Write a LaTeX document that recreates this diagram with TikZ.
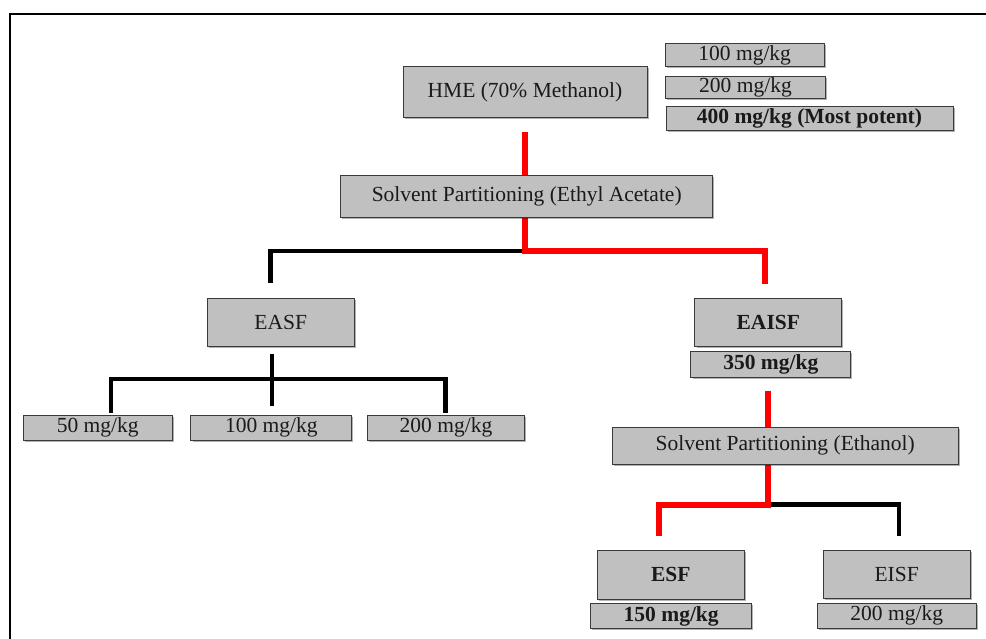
\documentclass[tikz,border=0pt]{standalone}
\usepackage{fontspec}
\setmainfont{Liberation Serif}
\usetikzlibrary{shadows,calc}
\pgfdeclarelayer{bg}
\pgfsetlayers{bg,main}
\definecolor{boxfill}{HTML}{C0C0C0}
\definecolor{boxline}{HTML}{3A3A3A}
\definecolor{linkred}{HTML}{FF0000}
\definecolor{txt}{HTML}{1A1A1A}
\begin{document}
\begin{tikzpicture}[x=1pt,y=-1pt,
  box/.style 2 args={draw=boxline, line width=1pt, fill=boxfill, inner sep=0pt,
    minimum width=#1, minimum height=#2, text=txt,
    drop shadow={shadow xshift=1.6pt,shadow yshift=-1.6pt,fill=black,opacity=0.3},
    font=\fontsize{21.5}{24}\selectfont},
  redl/.style={draw=linkred, line width=6pt},
  blkl/.style={draw=black, line width=4.5pt},
  frame/.style={draw=black, line width=2.2pt}]
\useasboundingbox (0,0) rectangle (986,639);
\draw[frame] (10.3,639) -- (10.3,14.3) -- (986,14.3);

% nodes
\node[box={244pt}{50.6pt}] (hme) at (525,92) {HME (70\% Methanol)};
\node[box={159pt}{23.4pt}] (d100) at (744.7,55) {100 mg/kg};
\node[box={160pt}{22.3pt}] (d200) at (745.5,87.2) {200 mg/kg};
\node[box={287pt}{24pt}] (d400) at (809.5,118.7) {\bfseries 400 mg/kg (Most potent)};
\node[box={372pt}{42.3pt}] (sp1) at (526.7,196.2) {Solvent Partitioning (Ethyl Acetate)};
\node[box={146.7pt}{48.4pt}] (easf) at (280.7,322.5) {EASF};
\node[box={146.7pt}{48.4pt}] (eaisf) at (768.3,322.5) {\bfseries EAISF};
\node[box={159.7pt}{25.6pt}] (e350) at (770.8,364.5) {\bfseries 350 mg/kg};
\node[box={148.6pt}{25pt}] (b50) at (97.7,427.5) {50 mg/kg};
\node[box={160.7pt}{25pt}] (b100) at (271.3,427.5) {100 mg/kg};
\node[box={157.5pt}{25pt}] (b200) at (446,427.5) {200 mg/kg};
\node[box={346.3pt}{37pt}] (sp2) at (785.2,445.5) {Solvent Partitioning (Ethanol)};
\node[box={147pt}{49pt}] (esf) at (670.8,574.5) {\bfseries ESF};
\node[box={161pt}{24.6pt}] (e150) at (671.2,616) {\bfseries 150 mg/kg};
\node[box={146.7pt}{48.3pt}] (eisf) at (896.7,574.2) {EISF};
\node[box={158.7pt}{25pt}] (e200) at (896.7,615.8) {200 mg/kg};

\coordinate (j1) at (525,251);
\coordinate (j3) at (272,379);
\coordinate (j2) at (768,504.5);

\begin{pgfonlayer}{bg}
  \draw[blkl] (j1) -| ([xshift=-10pt,yshift=15pt]easf.north);
  \draw[redl] ([yshift=-14.4pt]hme.south) -- (j1) -| ([xshift=-3.5pt,yshift=13.3pt]eaisf.north);
  \draw[blkl] ([xshift=-8.7pt,yshift=-6.6pt]easf.south) -- ([xshift=0.7pt,yshift=8.3pt]b100.north);
  \draw[blkl] ([xshift=13.3pt,yshift=2pt]b50.north) |- (j3) -| ([xshift=-0.5pt,yshift=2pt]b200.north);
  \draw[blkl] (j2) -| ([xshift=2.3pt,yshift=13.3pt]eisf.north);
  \draw[redl] ([xshift=-2.8pt,yshift=-12.7pt]e350.south) -- (j2) -| ([xshift=-11.8pt,yshift=13.3pt]esf.north);
\end{pgfonlayer}
\end{tikzpicture}
\end{document}
